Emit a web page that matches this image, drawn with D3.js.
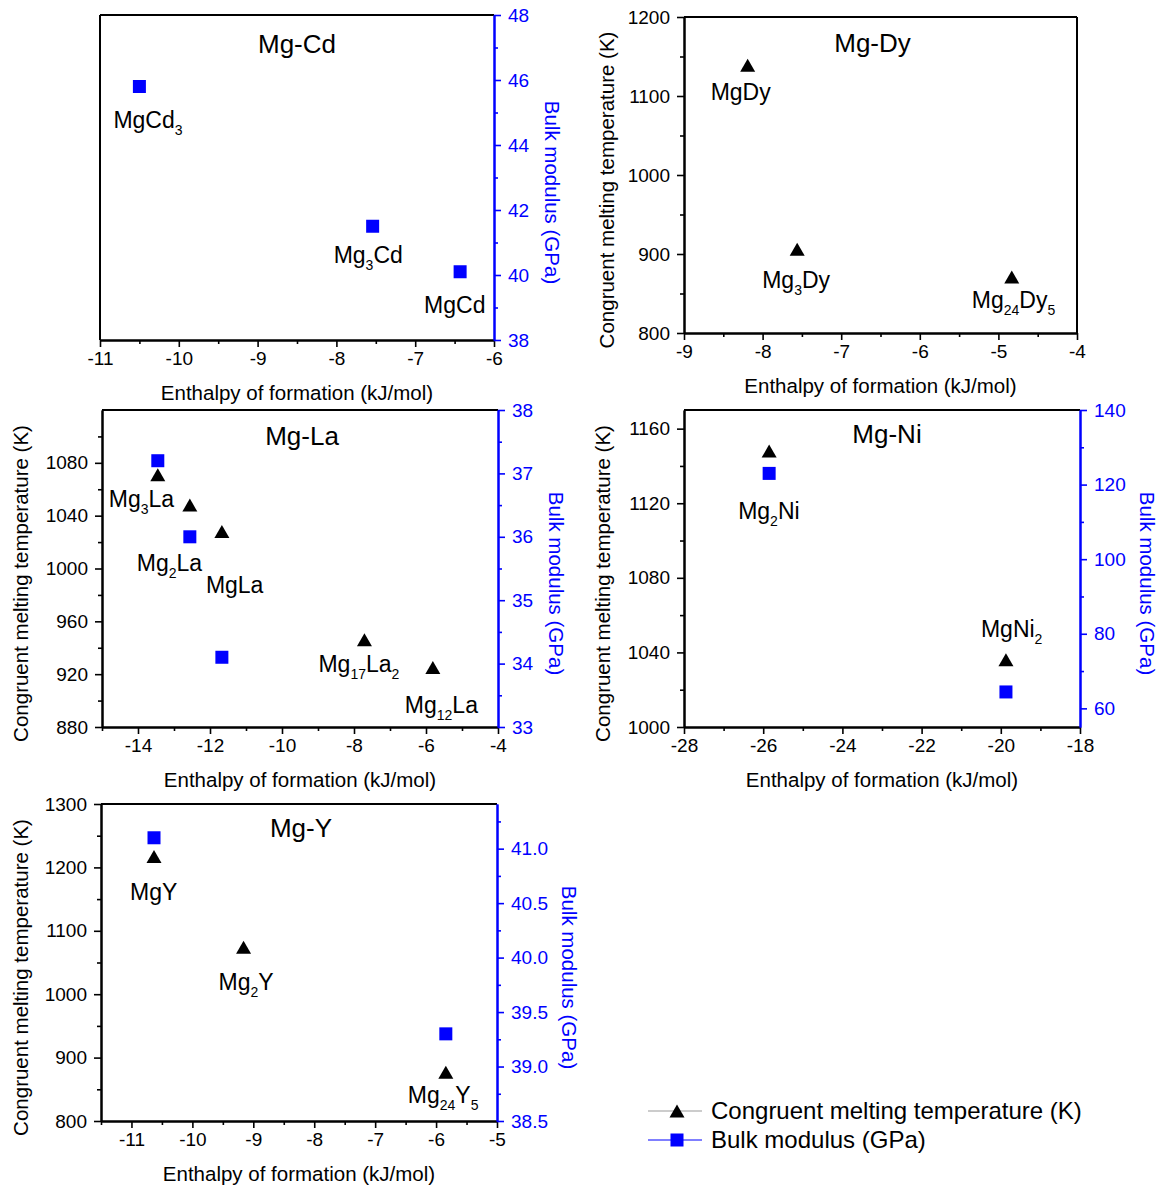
<!DOCTYPE html>
<html>
<head>
<meta charset="utf-8">
<script src="https://cdn.jsdelivr.net/npm/d3@7"></script>
<style>
  body { margin: 0; background: #fff; }
  text { font-family: "Liberation Sans", Arial, sans-serif; }
</style>
</head>
<body>
<script>
// Data
const cdNames = ["MgCd3", "Mg3Cd", "MgCd"];
const cdEnthalpy = [-10.5, -7.54, -6.43];
const cdBulk = [45.8, 41.5, 40.1];

const dyNames = ["MgDy", "Mg3Dy", "Mg24Dy5"];
const dyEnthalpy = [-8.19, -7.56, -4.83];
const dyMelting = [1139, 906, 871];

const laNames = ["Mg3La", "Mg2La", "MgLa", "Mg17La2", "Mg12La"];
const laEnthalpy = [-13.45, -12.56, -11.67, -7.71, -5.81];
const laMelting = [1071, 1048, 1028, 946, 925];
const laBulk = [37.2, 36.0, 34.1, null, null];

const niNames = ["Mg2Ni", "MgNi2"];
const niEnthalpy = [-25.85, -19.87];
const niMelting = [1148, 1036];
const niBulk = [123, 64.4];

const yNames = ["MgY", "Mg2Y", "Mg24Y5"];
const yEnthalpy = [-10.63, -9.16, -5.84];
const yMelting = [1217, 1074, 877];
const yBulk = [41.1, null, 39.3];

const xTitle = "Enthalpy of formation (kJ/mol)";
const leftTitle = "Congruent melting temperature (K)";
const rightTitle = "Bulk modulus (GPa)";
const legendLabels = ["Congruent melting temperature (K)", "Bulk modulus (GPa)"];

// Layout
const W = 1157, H = 1190;
const BLUE = "#0000ff";
const TICK_FONT = 19, TITLE_FONT = 20.5, LABEL_FONT = 23, SUB_FONT = 14;

const svg = d3.select("body").append("svg")
  .attr("width", W)
  .attr("height", H);

const rng = (a, b, s) => d3.range(a, b + s / 2, s);
const intFmt = d => String(d);

const panels = [
  {
    box: { x: 100, y: 15, w: 394, h: 325 }, title: "Mg-Cd", titleDx: 0, titleDy: 38,
    xDomain: [-11, -6], xTicks: rng(-11, -6, 1), xMinor: rng(-10.5, -6.5, 1),
    right: { domain: [38, 48], ticks: rng(38, 48, 2), minor: rng(39, 47, 2), fmt: intFmt, titleDx: 58 },
    names: cdNames, xs: cdEnthalpy, bulk: cdBulk,
    labelOffsets: [[-26, 41], [-39, 37], [-36, 41]], labelOn: "bulk"
  },
  {
    box: { x: 684, y: 17, w: 393, h: 316 }, title: "Mg-Dy", titleDx: -8, titleDy: 35,
    xDomain: [-9, -4], xTicks: rng(-9, -4, 1), xMinor: rng(-8.5, -4.5, 1),
    left: { domain: [800, 1200], ticks: rng(800, 1200, 100), minor: rng(850, 1150, 100), fmt: intFmt, titleDx: -78 },
    names: dyNames, xs: dyEnthalpy, melting: dyMelting,
    labelOffsets: [[-37, 35], [-35, 39], [-40, 31]]
  },
  {
    box: { x: 102, y: 410, w: 396, h: 317 }, title: "Mg-La", titleDx: 2, titleDy: 35,
    xDomain: [-15, -4], xTicks: rng(-14, -4, 2), xMinor: rng(-15, -5, 2),
    left: { domain: [880, 1120], ticks: rng(880, 1080, 40), minor: rng(900, 1100, 40), fmt: intFmt, titleDx: -82 },
    right: { domain: [33, 38], ticks: rng(33, 38, 1), minor: rng(33.5, 37.5, 1), fmt: intFmt, titleDx: 58 },
    names: laNames, xs: laEnthalpy, melting: laMelting, bulk: laBulk,
    labelOffsets: [[-49, 32], [-53, 66], [-16, 61], [-46, 32], [-28, 45]]
  },
  {
    box: { x: 684, y: 410, w: 396, h: 317 }, title: "Mg-Ni", titleDx: 5, titleDy: 33,
    xDomain: [-28, -18], xTicks: rng(-28, -18, 2), xMinor: rng(-27, -19, 2),
    left: { domain: [1000, 1170], ticks: rng(1000, 1160, 40), minor: rng(1020, 1140, 40), fmt: intFmt, titleDx: -82 },
    right: { domain: [55, 140], ticks: rng(60, 140, 20), minor: rng(70, 130, 20), fmt: intFmt, titleDx: 67 },
    names: niNames, xs: niEnthalpy, melting: niMelting, bulk: niBulk,
    labelOffsets: [[-31, 68], [-25, -23]]
  },
  {
    box: { x: 101, y: 804, w: 396, h: 317 }, title: "Mg-Y", titleDx: 2, titleDy: 33,
    xDomain: [-11.5, -5], xTicks: rng(-11, -5, 1), xMinor: rng(-11.5, -5.5, 1),
    left: { domain: [800, 1300], ticks: rng(800, 1300, 100), minor: rng(850, 1250, 100), fmt: intFmt, titleDx: -81 },
    right: { domain: [38.5, 41.41], ticks: rng(38.5, 41, 0.5), minor: rng(38.75, 41.25, 0.5), fmt: d => d.toFixed(1), titleDx: 72 },
    names: yNames, xs: yEnthalpy, melting: yMelting, bulk: yBulk,
    labelOffsets: [[-24, 43], [-25, 43], [-38, 31]]
  }
];

// Chemical formula: digits become subscripts
function formula(sel, name) {
  const parts = name.match(/[A-Za-z]+|\d+/g);
  let shifted = false;
  parts.forEach(part => {
    const isSub = /\d/.test(part);
    const t = sel.append("tspan").text(part);
    if (isSub) {
      t.attr("font-size", SUB_FONT).attr("dy", shifted ? 0 : 7);
      shifted = true;
    } else if (shifted) {
      t.attr("dy", -7);
      shifted = false;
    }
  });
}

function styleAxis(g, color) {
  g.attr("font-size", TICK_FONT)
    .attr("font-family", "Liberation Sans, Arial, sans-serif");
  g.select(".domain").attr("stroke", color).attr("stroke-width", 2);
  g.selectAll(".tick line").attr("stroke", color).attr("stroke-width", 1.6);
  g.selectAll(".tick text").attr("fill", color);
}

const triPath = (w, h) => `M0,${-h / 2}L${w / 2},${h / 2}L${-w / 2},${h / 2}Z`;

function drawPanel(p) {
  const { w, h } = p.box;
  const g = svg.append("g").attr("transform", `translate(${p.box.x},${p.box.y})`);
  const x = d3.scaleLinear().domain(p.xDomain).range([0, w]);

  // bottom axis: minor then major
  g.append("g").attr("transform", `translate(0,${h})`)
    .call(d3.axisBottom(x).tickValues(p.xMinor).tickSize(4).tickSizeOuter(0).tickFormat(""))
    .call(a => styleAxis(a, "#000"));
  g.append("g").attr("transform", `translate(0,${h})`)
    .call(d3.axisBottom(x).tickValues(p.xTicks).tickSize(7).tickPadding(5).tickSizeOuter(0).tickFormat(intFmt))
    .call(a => styleAxis(a, "#000"));

  // top border
  g.append("line").attr("x1", 0).attr("x2", w).attr("y1", 0).attr("y2", 0)
    .attr("stroke", "#000").attr("stroke-width", 2);

  let yL = null, yR = null;
  if (p.left) {
    yL = d3.scaleLinear().domain(p.left.domain).range([h, 0]);
    g.append("g")
      .call(d3.axisLeft(yL).tickValues(p.left.minor).tickSize(4).tickSizeOuter(0).tickFormat(""))
      .call(a => styleAxis(a, "#000"));
    g.append("g")
      .call(d3.axisLeft(yL).tickValues(p.left.ticks).tickSize(7).tickPadding(7).tickSizeOuter(0).tickFormat(p.left.fmt))
      .call(a => styleAxis(a, "#000"));
    g.append("text")
      .attr("transform", `translate(${p.left.titleDx},${h / 2 + 15}) rotate(-90)`)
      .attr("text-anchor", "middle")
      .attr("dominant-baseline", "central")
      .attr("font-size", TITLE_FONT)
      .text(leftTitle);
  } else {
    g.append("line").attr("x1", 0).attr("x2", 0).attr("y1", 0).attr("y2", h)
      .attr("stroke", "#000").attr("stroke-width", 2);
  }

  if (p.right) {
    yR = d3.scaleLinear().domain(p.right.domain).range([h, 0]);
    g.append("g").attr("transform", `translate(${w},0)`)
      .call(d3.axisRight(yR).tickValues(p.right.minor).tickSize(4).tickSizeOuter(0).tickFormat(""))
      .call(a => styleAxis(a, BLUE));
    g.append("g").attr("transform", `translate(${w},0)`)
      .call(d3.axisRight(yR).tickValues(p.right.ticks).tickSize(7).tickPadding(7).tickSizeOuter(0).tickFormat(p.right.fmt))
      .call(a => styleAxis(a, BLUE));
    g.append("text")
      .attr("transform", `translate(${w + p.right.titleDx},${h / 2 + 15}) rotate(90)`)
      .attr("text-anchor", "middle")
      .attr("dominant-baseline", "central")
      .attr("font-size", TITLE_FONT)
      .attr("fill", BLUE)
      .text(rightTitle);
  } else {
    g.append("line").attr("x1", w).attr("x2", w).attr("y1", 0).attr("y2", h)
      .attr("stroke", "#000").attr("stroke-width", 2);
  }

  // x axis title
  g.append("text")
    .attr("x", w / 2)
    .attr("y", h + 60)
    .attr("text-anchor", "middle")
    .attr("font-size", TITLE_FONT)
    .text(xTitle);

  // panel title
  g.append("text")
    .attr("x", w / 2 + p.titleDx)
    .attr("y", p.titleDy)
    .attr("text-anchor", "middle")
    .attr("font-size", 26)
    .text(p.title);

  // bulk modulus squares
  if (yR && p.bulk) {
    g.selectAll(".sq")
      .data(p.xs.map((v, i) => ({ x: v, y: p.bulk[i] })).filter(d => d.y != null))
      .enter().append("rect")
      .attr("class", "sq")
      .attr("x", d => x(d.x) - 6.5)
      .attr("y", d => yR(d.y) - 6.5)
      .attr("width", 13).attr("height", 13)
      .attr("fill", BLUE);
  }

  // melting temperature triangles
  if (yL && p.melting) {
    g.selectAll(".tri")
      .data(p.xs.map((v, i) => ({ x: v, y: p.melting[i] })))
      .enter().append("path")
      .attr("class", "tri")
      .attr("d", triPath(15, 13))
      .attr("transform", d => `translate(${x(d.x)},${yL(d.y)})`)
      .attr("fill", "#000");
  }

  // compound labels
  p.names.forEach((name, i) => {
    const ax = x(p.xs[i]);
    const ay = p.labelOn === "bulk" ? yR(p.bulk[i]) : yL(p.melting[i]);
    const [dx, dy] = p.labelOffsets[i];
    const t = g.append("text")
      .attr("x", ax + dx)
      .attr("y", ay + dy)
      .attr("font-size", LABEL_FONT);
    formula(t, name);
  });
}

panels.forEach(drawPanel);

// legend
const legend = svg.append("g").attr("transform", "translate(648,1111)");
legend.append("line").attr("x1", 0).attr("x2", 54).attr("y1", 0).attr("y2", 0)
  .attr("stroke", "#999").attr("stroke-width", 1);
legend.append("path").attr("d", triPath(15, 13))
  .attr("transform", "translate(29,0)").attr("fill", "#000");
legend.append("text").attr("x", 63).attr("y", 0).attr("dy", "0.35em")
  .attr("font-size", 24).text(legendLabels[0]);

legend.append("line").attr("x1", 0).attr("x2", 54).attr("y1", 29).attr("y2", 29)
  .attr("stroke", BLUE).attr("stroke-width", 1);
legend.append("rect").attr("x", 22.5).attr("y", 22.5).attr("width", 13).attr("height", 13)
  .attr("fill", BLUE);
legend.append("text").attr("x", 63).attr("y", 29).attr("dy", "0.35em")
  .attr("font-size", 24).text(legendLabels[1]);
</script>
</body>
</html>
